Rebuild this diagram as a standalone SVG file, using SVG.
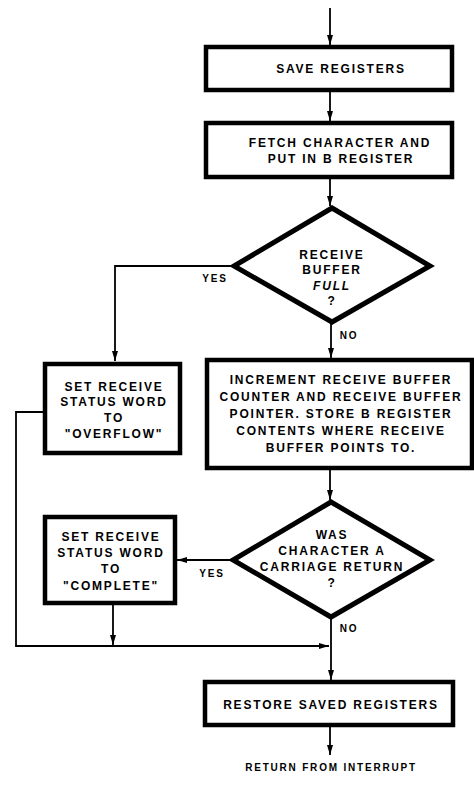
<svg xmlns="http://www.w3.org/2000/svg" width="474" height="785" viewBox="0 0 474 785">
  <style>
    .box { fill: #fff; stroke: #000; stroke-width: 4.5; }
    .dia { fill: #fff; stroke: #000; stroke-width: 5; stroke-linejoin: miter; }
    .wire { fill: none; stroke: #000; stroke-width: 1.8; }
    .t { font-family: "Liberation Sans", Arial, sans-serif; font-weight: bold; font-size: 12px; letter-spacing: 1.8px; text-anchor: middle; fill: #000; }
    .s { font-size: 10px; letter-spacing: 1.8px; }
    .i { font-style: italic; }
  </style>
  <defs>
    <marker id="arrow" markerUnits="userSpaceOnUse" markerWidth="10" markerHeight="6" refX="10" refY="3" orient="auto">
      <path d="M0,0 L10,3 L0,6 z" fill="#000"/>
    </marker>
  </defs>
  <rect width="474" height="785" fill="#fff"/>

  <!-- flow lines and branch labels -->
  <g id="connectors">
    <path class="wire" d="M330,8 V45" marker-end="url(#arrow)"/>
    <path class="wire" d="M330,90 V121" marker-end="url(#arrow)"/>
    <path class="wire" d="M330,177 V206" marker-end="url(#arrow)"/>
    <path class="wire" d="M234,266 H115 V361" marker-end="url(#arrow)"/>
    <path class="wire" d="M331,322 V358" marker-end="url(#arrow)"/>
    <path class="wire" d="M330,468 V500" marker-end="url(#arrow)"/>
    <path class="wire" d="M233,560 H177" marker-end="url(#arrow)"/>
    <path class="wire" d="M113,603 V645" marker-end="url(#arrow)"/>
    <path class="wire" d="M45,412 H16 V646 H329" marker-end="url(#arrow)"/>
    <path class="wire" d="M331,617 V680" marker-end="url(#arrow)"/>
    <path class="wire" d="M330,725 V755" marker-end="url(#arrow)"/>
    <text class="t s" x="215" y="282">YES</text>
    <text class="t s" x="349" y="339">NO</text>
    <text class="t s" x="212" y="577">YES</text>
    <text class="t s" x="349" y="632">NO</text>
  </g>

  <g id="save">
    <rect class="box" x="206" y="47" width="246" height="43"/>
    <text class="t" x="341" y="73">SAVE REGISTERS</text>
  </g>

  <g id="fetch">
    <rect class="box" x="206" y="123" width="246" height="54"/>
    <text class="t" x="340" y="147">FETCH CHARACTER AND</text>
    <text class="t" x="341" y="163">PUT IN B REGISTER</text>
  </g>

  <g id="buffer-full">
    <polygon class="dia" points="332,208 430,266 332,322 234,266"/>
    <text class="t" x="332" y="259">RECEIVE</text>
    <text class="t" x="332" y="274">BUFFER</text>
    <text class="t i" x="332" y="290">FULL</text>
    <text class="t" x="332" y="305">?</text>
  </g>

  <g id="overflow">
    <rect class="box" x="45" y="364" width="135" height="89"/>
    <text class="t" x="114" y="391">SET RECEIVE</text>
    <text class="t" x="114" y="406">STATUS WORD</text>
    <text class="t" x="114" y="422">TO</text>
    <text class="t" x="114" y="438">"OVERFLOW"</text>
  </g>

  <g id="increment">
    <rect class="box" x="207" y="360" width="265" height="108"/>
    <text class="t" x="341" y="384">INCREMENT RECEIVE BUFFER</text>
    <text class="t" x="341" y="401">COUNTER AND RECEIVE BUFFER</text>
    <text class="t" x="341" y="418">POINTER. STORE B REGISTER</text>
    <text class="t" x="341" y="435">CONTENTS WHERE RECEIVE</text>
    <text class="t" x="341" y="452">BUFFER POINTS TO.</text>
  </g>

  <g id="carriage-return">
    <polygon class="dia" points="331,502 430,560 331,617 233,560"/>
    <text class="t" x="332" y="539">WAS</text>
    <text class="t" x="332" y="555">CHARACTER A</text>
    <text class="t" x="332" y="571">CARRIAGE RETURN</text>
    <text class="t" x="332" y="587">?</text>
  </g>

  <g id="complete">
    <rect class="box" x="45" y="517" width="130" height="86"/>
    <text class="t" x="111" y="541">SET RECEIVE</text>
    <text class="t" x="111" y="557">STATUS WORD</text>
    <text class="t" x="111" y="573">TO</text>
    <text class="t" x="111" y="590">"COMPLETE"</text>
  </g>

  <g id="restore">
    <rect class="box" x="205" y="682" width="248" height="43"/>
    <text class="t" x="331" y="709">RESTORE SAVED REGISTERS</text>
  </g>

  <g id="return">
    <text class="t s" x="331" y="771">RETURN FROM INTERRUPT</text>
  </g>
</svg>
